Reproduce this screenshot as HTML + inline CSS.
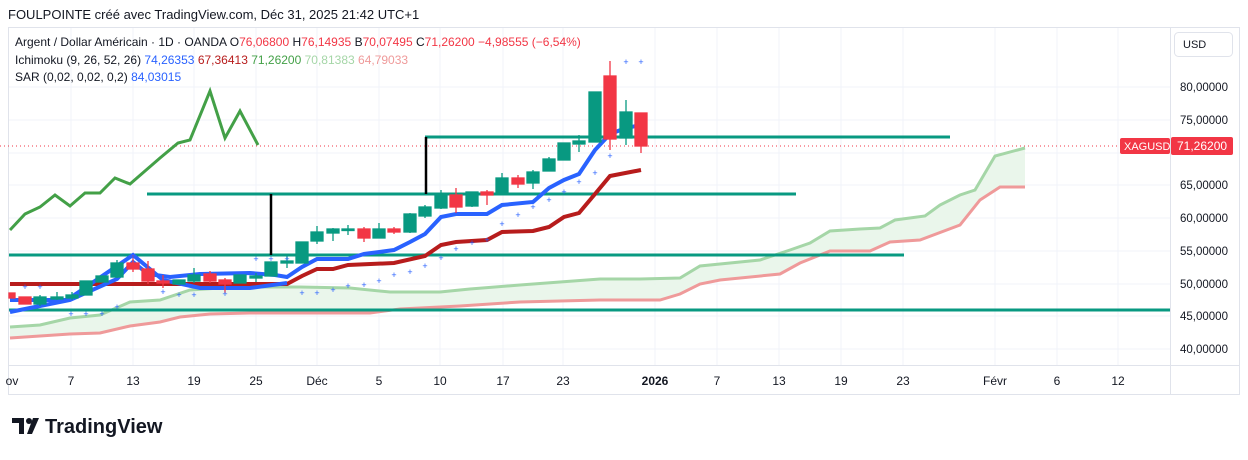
<!DOCTYPE html>
<html><head><meta charset="utf-8"><style>
body{margin:0;background:#fff;font-family:"Liberation Sans",sans-serif;}
svg text{font-family:"Liberation Sans",sans-serif;}
</style></head><body>
<svg width="1248" height="455" viewBox="0 0 1248 455" xmlns="http://www.w3.org/2000/svg">
<rect width="1248" height="455" fill="#fff"/>
<text x="8" y="19" font-size="13" fill="#131722">FOULPOINTE créé avec TradingView.com, Déc 31, 2025 21:42 UTC+1</text>
<rect x="8.5" y="27.5" width="1231" height="367" fill="none" stroke="#e0e3eb"/>
<line x1="1170.5" y1="28" x2="1170.5" y2="394" stroke="#e0e3eb"/>
<line x1="8" y1="365.5" x2="1240" y2="365.5" stroke="#e0e3eb"/>
<!-- grid -->
<g stroke="#f0f3fa" stroke-width="1">
<line x1="9" y1="87" x2="1170" y2="87"/><line x1="9" y1="120" x2="1170" y2="120"/><line x1="9" y1="153" x2="1170" y2="153"/><line x1="9" y1="185" x2="1170" y2="185"/><line x1="9" y1="218" x2="1170" y2="218"/><line x1="9" y1="251" x2="1170" y2="251"/><line x1="9" y1="284" x2="1170" y2="284"/><line x1="9" y1="316" x2="1170" y2="316"/><line x1="9" y1="349" x2="1170" y2="349"/>
<line x1="71" y1="28" x2="71" y2="365"/><line x1="133" y1="28" x2="133" y2="365"/><line x1="194" y1="28" x2="194" y2="365"/><line x1="256" y1="28" x2="256" y2="365"/><line x1="317" y1="28" x2="317" y2="365"/><line x1="379" y1="28" x2="379" y2="365"/><line x1="440" y1="28" x2="440" y2="365"/><line x1="503" y1="28" x2="503" y2="365"/><line x1="563" y1="28" x2="563" y2="365"/><line x1="655" y1="28" x2="655" y2="365"/><line x1="717" y1="28" x2="717" y2="365"/><line x1="779" y1="28" x2="779" y2="365"/><line x1="841" y1="28" x2="841" y2="365"/><line x1="903" y1="28" x2="903" y2="365"/><line x1="995" y1="28" x2="995" y2="365"/><line x1="1057" y1="28" x2="1057" y2="365"/><line x1="1118" y1="28" x2="1118" y2="365"/>
</g>
<!-- cloud -->
<polygon fill="#e8f5e9" opacity="0.9" points="10,327 40,325 70,318 100,315 130,302 160,300 190,290 220,288 250,287 300,287 350,288 390,292 440,292 470,289 520,285 600,279 640,279 680,278 700,266 720,264 760,260 790,250 810,243 830,231 860,229 880,228 895,220 925,216 940,205 960,195 975,190 995,156 1025,148 1025,187 1000,187 980,200 960,225 920,240 890,242 870,251 830,251 800,263 780,274 720,280 700,284 680,294 660,300 600,300 520,302 460,306 400,309 370,313 250,313 210,314 180,317 160,322 130,326 100,333 70,334 40,336 10,338"/>
<polyline fill="none" stroke="#a5d6a7" stroke-width="3" points="10,327 40,325 70,318 100,315 130,302 160,300 190,290 220,288 250,287 300,287 350,288 390,292 440,292 470,289 520,285 600,279 640,279 680,278 700,266 720,264 760,260 790,250 810,243 830,231 860,229 880,228 895,220 925,216 940,205 960,195 975,190 995,156 1025,148"/>
<polyline fill="none" stroke="#ef9a9a" stroke-width="3" points="10,338 40,336 70,334 100,333 130,326 160,322 180,317 210,314 250,313 370,313 400,309 460,306 520,302 600,300 660,300 680,294 700,284 720,280 780,274 800,263 830,251 870,251 890,242 920,240 960,225 980,200 1000,187 1025,187"/>
<!-- horizontal lines -->
<g stroke="#089981" stroke-width="3">
<line x1="425" y1="137" x2="950" y2="137"/><line x1="147" y1="194" x2="796" y2="194"/><line x1="9" y1="255" x2="904" y2="255"/><line x1="9" y1="310" x2="1170" y2="310"/>
</g>
<line x1="271" y1="194" x2="271" y2="255" stroke="#000" stroke-width="2.5"/>
<line x1="426" y1="137" x2="426" y2="194" stroke="#000" stroke-width="2.5"/>
<line x1="0" y1="146" x2="1120" y2="146" stroke="#f23645" stroke-dasharray="1,3"/>
<!-- chikou -->
<polyline fill="none" stroke="#43a047" stroke-width="3" points="10,230 25,214 40,207 55,195 70,206 85,193 100,193 115,178 130,184 145,171 160,158 178,143 190,140 210,91 225,138 240,111 258,145"/>
<!-- kijun -->
<polyline fill="none" stroke="#b71c1c" stroke-width="4" points="10,284 287,284 302,276 317,269 333,269 348,265 394,263 425,256 441,245 456,242 487,240 502,232 533,231 549,227 564,217 579,213 595,194 610,176 641,170"/>
<!-- tenkan -->
<polyline fill="none" stroke="#2962ff" stroke-width="4" points="10,312 70,300 117,279 133,262 148,274 170,277 200,274 250,273 275,275 287,277 302,267 317,259 348,259 364,254 394,250 410,242 425,234 441,217 456,214 487,214 502,205 533,202 549,188 564,180 579,174 595,150 610,134 626,128 641,125"/>
<polyline fill="none" stroke="#2962ff" stroke-width="4" points="10,300 67,300 133,255 163,280 200,288 250,288 287,283"/>
<!-- candles -->
<g stroke-width="1.3">
<g fill="#089981" stroke="#089981">
<line x1="40" y1="295" x2="40" y2="306"/><rect x="34" y="297" width="12" height="7"/>
<line x1="57" y1="292" x2="57" y2="300"/><rect x="51" y="297" width="12" height="2"/>
<line x1="72" y1="292" x2="72" y2="300"/><rect x="66" y="295" width="12" height="3"/>
<rect x="80" y="281" width="12" height="14"/><rect x="96" y="276" width="12" height="6"/>
<line x1="117" y1="260" x2="117" y2="278"/><rect x="111" y="263" width="12" height="14"/>
<rect x="173" y="280" width="12" height="4"/><line x1="194" y1="268" x2="194" y2="283"/><rect x="188" y="275" width="12" height="6"/>
<rect x="234" y="275" width="12" height="8"/><line x1="256" y1="273" x2="256" y2="282"/><rect x="250" y="276" width="12" height="2"/>
<rect x="265" y="262" width="12" height="14"/><line x1="287" y1="255" x2="287" y2="268"/><rect x="281" y="261" width="12" height="2"/>
<rect x="296" y="242" width="12" height="21"/>
<line x1="317" y1="226" x2="317" y2="244"/><rect x="311" y="232" width="12" height="9"/>
<line x1="333" y1="228" x2="333" y2="241"/><rect x="327" y="229" width="12" height="4"/>
<line x1="348" y1="225" x2="348" y2="235"/><rect x="342" y="229" width="12" height="1.5"/>
<line x1="379" y1="223" x2="379" y2="238"/><rect x="373" y="229" width="12" height="9"/>
<line x1="410" y1="213" x2="410" y2="233"/><rect x="404" y="214" width="12" height="18"/>
<line x1="425" y1="205" x2="425" y2="218"/><rect x="419" y="207" width="12" height="9"/>
<line x1="441" y1="190" x2="441" y2="209"/><rect x="435" y="194" width="12" height="14"/>
<line x1="472" y1="192" x2="472" y2="207"/><rect x="466" y="192" width="12" height="14"/>
<line x1="502" y1="173" x2="502" y2="194"/><rect x="496" y="178" width="12" height="16"/>
<line x1="533" y1="170" x2="533" y2="189"/><rect x="527" y="172" width="12" height="11"/>
<line x1="549" y1="157" x2="549" y2="171"/><rect x="543" y="159" width="12" height="12"/>
<rect x="558" y="143" width="12" height="17"/>
<line x1="579" y1="135" x2="579" y2="152"/><rect x="573" y="141" width="12" height="3"/>
<rect x="589" y="92" width="12" height="50"/>
<line x1="626" y1="100" x2="626" y2="145"/><rect x="620" y="112" width="12" height="26"/>
</g>
<g fill="#f23645" stroke="#f23645">
<rect x="9" y="293" width="6" height="5"/>
<rect x="19" y="297" width="12" height="7"/>
<line x1="133" y1="255" x2="133" y2="272"/><rect x="127" y="263" width="12" height="6"/>
<line x1="148" y1="261" x2="148" y2="284"/><rect x="142" y="269" width="12" height="12"/>
<line x1="163" y1="275" x2="163" y2="288"/><rect x="157" y="281" width="12" height="2"/>
<line x1="210" y1="271" x2="210" y2="283"/><rect x="204" y="274" width="12" height="7"/>
<line x1="225" y1="278" x2="225" y2="293"/><rect x="219" y="280" width="12" height="4"/>
<line x1="364" y1="227" x2="364" y2="242"/><rect x="358" y="229" width="12" height="9"/>
<line x1="394" y1="227" x2="394" y2="234"/><rect x="388" y="229" width="12" height="3"/>
<line x1="456" y1="188" x2="456" y2="213"/><rect x="450" y="195" width="12" height="12"/>
<line x1="487" y1="190" x2="487" y2="205"/><rect x="481" y="192" width="12" height="3"/>
<line x1="518" y1="175" x2="518" y2="188"/><rect x="512" y="178" width="12" height="6"/>
<line x1="610" y1="61" x2="610" y2="150"/><rect x="604" y="76" width="12" height="63"/>
<line x1="641" y1="113" x2="641" y2="153"/><rect x="635" y="113" width="12" height="33"/>
</g>
</g>
<!-- SAR -->
<g fill="#2962ff" font-size="9" text-anchor="middle">
<text x="25" y="290">+</text><text x="40" y="290">+</text><text x="71" y="317">+</text><text x="86" y="317">+</text><text x="102" y="317">+</text><text x="117" y="310">+</text>
<text x="133" y="260">+</text><text x="163" y="295">+</text><text x="179" y="298">+</text><text x="194" y="298">+</text><text x="225" y="297">+</text><text x="256" y="262">+</text><text x="271" y="262">+</text><text x="287" y="262">+</text>
<text x="302" y="296">+</text><text x="317" y="296">+</text><text x="333" y="293">+</text><text x="348" y="289">+</text><text x="364" y="288">+</text><text x="379" y="284">+</text><text x="394" y="278">+</text><text x="410" y="275">+</text><text x="425" y="269">+</text><text x="441" y="261">+</text><text x="456" y="252">+</text><text x="472" y="246">+</text><text x="487" y="243">+</text><text x="502" y="227">+</text><text x="518" y="218">+</text><text x="533" y="210">+</text><text x="549" y="203">+</text><text x="564" y="195">+</text><text x="579" y="185">+</text><text x="595" y="176">+</text><text x="610" y="159">+</text><text x="626" y="65">+</text><text x="641" y="65">+</text>
</g>
<!-- legend -->
<g font-size="12">
<text x="15" y="46" fill="#131722">Argent / Dollar Américain · 1D · OANDA <tspan>O</tspan><tspan fill="#f23645">76,06800</tspan> <tspan>H</tspan><tspan fill="#f23645">76,14935</tspan> <tspan>B</tspan><tspan fill="#f23645">70,07495</tspan> <tspan>C</tspan><tspan fill="#f23645">71,26200 −4,98555 (−6,54%)</tspan></text>
<text x="15" y="64" fill="#131722">Ichimoku (9, 26, 52, 26) <tspan fill="#2962ff">74,26353</tspan> <tspan fill="#b71c1c">67,36413</tspan> <tspan fill="#43a047">71,26200</tspan> <tspan fill="#a5d6a7">70,81383</tspan> <tspan fill="#ef9a9a">64,79033</tspan></text>
<text x="15" y="81" fill="#131722">SAR (0,02, 0,02, 0,2) <tspan fill="#2962ff">84,03015</tspan></text>
</g>
<!-- price axis -->
<rect x="1174.5" y="32.5" width="58" height="24" rx="4" fill="#fff" stroke="#e0e3eb"/>
<text x="1183" y="48" font-size="11" fill="#131722">USD</text>
<g font-size="11.5" fill="#131722">
<text x="1180" y="91">80,00000</text><text x="1180" y="124">75,00000</text><text x="1180" y="189">65,00000</text><text x="1180" y="222">60,00000</text><text x="1180" y="255">55,00000</text><text x="1180" y="288">50,00000</text><text x="1180" y="320">45,00000</text><text x="1180" y="353">40,00000</text>
</g>
<rect x="1120" y="138" width="50" height="16" rx="2" fill="#f23645"/>
<text x="1124" y="150" font-size="11" fill="#fff">XAGUSD</text>
<rect x="1171" y="137" width="62" height="18" rx="2" fill="#f23645"/>
<text x="1177" y="150" font-size="12" fill="#fff">71,26200</text>
<!-- time axis -->
<g font-size="12" fill="#131722" text-anchor="middle">
<text x="12" y="385">ov</text><text x="71" y="385">7</text><text x="133" y="385">13</text><text x="194" y="385">19</text><text x="256" y="385">25</text><text x="317" y="385">Déc</text><text x="379" y="385">5</text><text x="440" y="385">10</text><text x="503" y="385">17</text><text x="563" y="385">23</text><text x="655" y="385" font-weight="bold">2026</text><text x="717" y="385">7</text><text x="779" y="385">13</text><text x="841" y="385">19</text><text x="903" y="385">23</text><text x="995" y="385">Févr</text><text x="1057" y="385">6</text><text x="1118" y="385">12</text>
</g>
<!-- logo -->
<g fill="#131722">
<path d="M12 418h12v16h-5v-11h-7z"/><circle cx="29" cy="421" r="3"/><path d="M33 418h6l-7 16h-5z"/>
</g>
<text x="45" y="433" font-size="20" font-weight="bold" fill="#131722">TradingView</text>
</svg>
</body></html>
